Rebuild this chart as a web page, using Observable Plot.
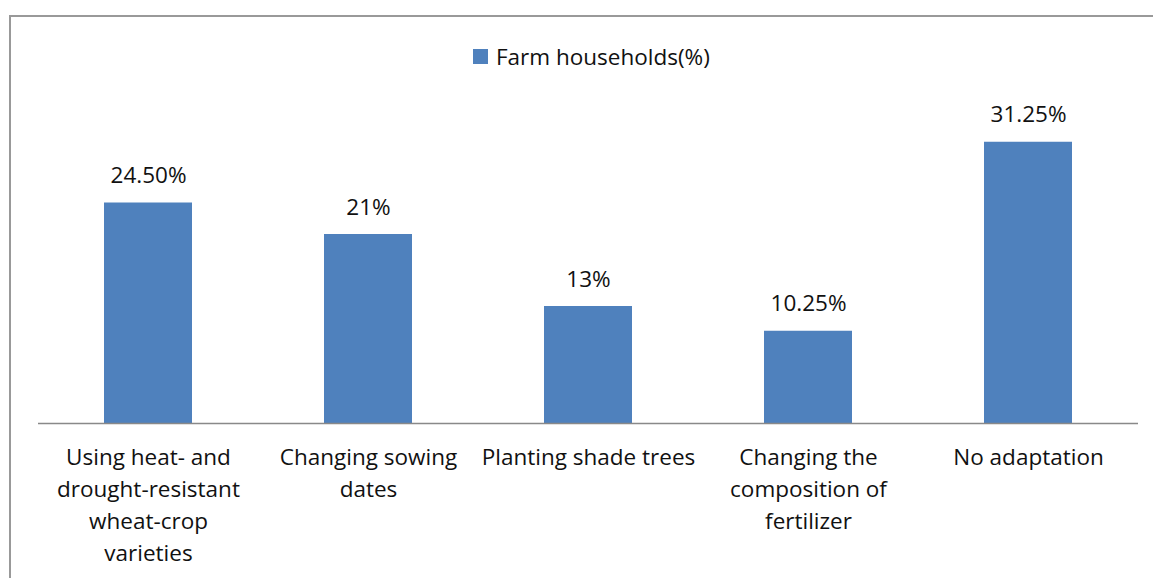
<!DOCTYPE html>
<html>
<head>
<meta charset="utf-8">
<script src="https://cdn.jsdelivr.net/npm/d3@7"></script>
<script src="https://cdn.jsdelivr.net/npm/@observablehq/plot@0.6"></script>
<style>
  html, body { margin: 0; padding: 0; background: #fff; overflow: hidden; }
  #wrap { position: relative; width: 1153px; height: 578px; font-family: "Open Sans", sans-serif; }
  #frame { position: absolute; left: 9px; top: 15px; width: 1200px; height: 700px;
           border-top: 2px solid #999; border-left: 2px solid #999; box-sizing: border-box; }
  #legend { position: absolute; left: 473px; top: 40px; height: 32px; display: flex; align-items: center;
            font-size: 22.5px; color: #111; white-space: nowrap; }
  #legend .sw { width: 15px; height: 15px; background: #4F81BD; margin-right: 8px; }
  #chart { position: absolute; left: 0; top: 0; }
</style>
</head>
<body>
<div id="wrap">
  <div id="frame"></div>
  <div id="chart"></div>
  <div id="legend"><span class="sw"></span><span>Farm households(%)</span></div>
</div>
<script>
const categories = [
  "Using heat- and drought-resistant wheat-crop varieties",
  "Changing sowing dates",
  "Planting shade trees",
  "Changing the composition of fertilizer",
  "No adaptation"
];
const tickLabels = [
  "Using heat- and\ndrought-resistant\nwheat-crop\nvarieties",
  "Changing sowing\ndates",
  "Planting shade trees",
  "Changing the\ncomposition of\nfertilizer",
  "No adaptation"
];
const values = [24.5, 21, 13, 10.25, 31.25];
const valueLabels = ["24.50%", "21%", "13%", "10.25%", "31.25%"];

const data = categories.map((c, i) => ({category: c, value: values[i], label: valueLabels[i]}));
const tickMap = new Map(categories.map((c, i) => [c, tickLabels[i]]));

const chart = Plot.plot({
  width: 1153,
  height: 578,
  marginTop: 108,
  marginBottom: 155,
  marginLeft: 38,
  marginRight: 15,
  style: { fontFamily: "Open Sans, sans-serif", background: "transparent", color: "#111" },
  x: { domain: categories, paddingInner: 0.6, paddingOuter: 0.3, label: null },
  y: { domain: [0, 35], axis: null },
  marks: [
    Plot.barY(data, { x: "category", y: "value", fill: "#4F81BD" }),
    Plot.ruleY([0], { stroke: "#898989", strokeWidth: 1.5 }),
    Plot.text(data, { x: "category", y: "value", text: "label", dy: -27, fontSize: 22.5, fill: "#111" }),
    Plot.axisX({
      tickSize: 0,
      tickPadding: 19,
      fontSize: 22.5,
      lineHeight: 1.42,
      lineAnchor: "top",
      tickFormat: d => tickMap.get(d),
      label: null,
      fill: "#111"
    })
  ]
});
document.getElementById("chart").appendChild(chart);
</script>
</body>
</html>
